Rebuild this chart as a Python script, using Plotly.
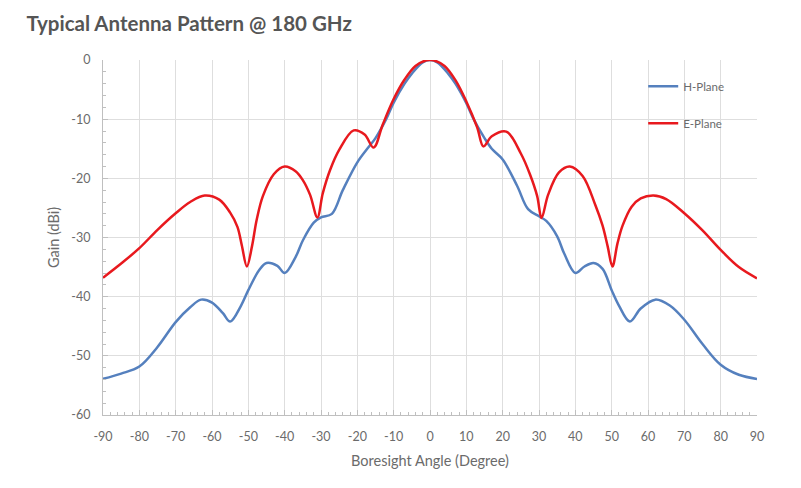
import plotly.graph_objects as go

# H-Plane data
h_angle = [-90, -85, -80, -75, -70, -66, -63, -60, -57, -55, -52, -50, -47, -45, -42, -40,
           -37, -35, -32, -30, -27, -24, -20, -17, -15, -12, -10, -7, -5, -2, 0,
           2, 5, 7, 10, 12, 15, 17, 20, 24, 27, 30, 32, 35, 37, 40, 42.5, 45, 47.5, 50,
           52, 55, 58, 62, 66, 70, 75, 80, 85, 90]
h_gain = [-53.9, -53.0, -51.8, -48.5, -44.3, -41.8, -40.5, -41.0, -42.8, -44.2, -41.5, -38.9,
          -35.5, -34.3, -34.8, -36.0, -33.3, -30.5, -27.5, -26.6, -26.0, -22.0, -17.3, -14.8,
          -13.2, -9.9, -7.2, -4.0, -2.3, -0.4, 0.0,
          -0.4, -2.3, -4.0, -7.3, -10.0, -13.2, -15.0, -16.8, -21.3, -25.2, -26.4, -27.2,
          -29.8, -32.8, -36.0, -34.9, -34.3, -35.3, -38.9, -41.5, -44.2, -42.0, -40.5,
          -41.5, -43.9, -48.0, -51.5, -53.2, -53.9]

# E-Plane data
e_angle = [-90, -85, -80, -75, -70, -66, -62, -58, -55, -53, -51.8, -50.4, -49, -47.7, -46,
           -43, -40, -37, -35, -33, -31, -29.5, -27.5, -25, -21, -18, -15.5, -13, -10, -7, -4, -1, 0,
           1, 4, 7, 10, 13, 14.7, 17, 21, 25, 27.5, 29.5, 30.7, 32.5, 35.5, 38.5, 42, 45.5,
           47.5, 48.9, 50.2, 51.6, 53, 55.5, 58, 61.5, 65, 70, 75, 80, 85, 90]
e_gain = [-36.8, -34.4, -31.8, -28.7, -25.9, -24.0, -22.9, -23.6, -25.8, -28.2, -31.3, -34.9,
          -31.5, -27.0, -23.0, -19.3, -18.0, -18.8, -20.3, -22.8, -26.6, -22.5, -18.6, -15.2,
          -11.9, -12.6, -14.8, -10.9, -6.6, -3.3, -1.0, -0.05, 0.0,
          -0.05, -1.0, -3.4, -7.0, -11.4, -14.6, -12.9, -12.1, -15.8, -19.3, -23.0, -26.7,
          -22.8, -19.0, -18.0, -19.6, -24.5, -28.0, -31.5, -34.9, -31.0, -28.0, -24.8,
          -23.4, -22.9, -23.5, -25.9, -28.8, -32.1, -35.0, -36.9]

x_ticks = list(range(-90, 91, 10))
y_ticks = list(range(-60, 1, 10))

fig = go.Figure()
fig.add_trace(go.Scatter(x=h_angle, y=h_gain, mode="lines", name="H-Plane",
                         legendgroup="h",
                         line=dict(color="#5580BE", width=2.5, shape="spline", smoothing=1.0)))
fig.add_trace(go.Scatter(x=e_angle, y=e_gain, mode="lines", name="E-Plane",
                         legendgroup="e",
                         line=dict(color="#E8191E", width=2.5, shape="spline", smoothing=1.0)))

gray = "#6b6b6b"
fig.update_layout(
    width=801, height=488,
    margin=dict(l=103, r=44, t=60, b=73),
    paper_bgcolor="white", plot_bgcolor="white",
    font=dict(family="Lato, Open Sans, sans-serif", size=12, color=gray),
    title=dict(text="<b>Typical Antenna Pattern @ 180 GHz</b>",
               x=0.033, xanchor="left", y=0.952, yanchor="middle",
               font=dict(size=20.5, color="#555555", family="Lato, Open Sans, sans-serif")),
    legend=dict(x=0.826, y=0.967, xanchor="left", yanchor="top",
                bgcolor="rgba(0,0,0,0)", font=dict(size=11.5, color=gray),
                tracegroupgap=18, traceorder="grouped", itemwidth=30),
    showlegend=True,
)
fig.update_xaxes(
    range=[-90, 90], tickvals=x_ticks, ticktext=[str(v) for v in x_ticks],
    showgrid=True, gridcolor="#dedede", gridwidth=1,
    showline=True, linecolor="#bfbfbf", linewidth=1,
    ticks="inside", ticklen=5, tickcolor="#bfbfbf",
    minor=dict(dtick=2, ticks="inside", ticklen=3, tickcolor="#bfbfbf", showgrid=False),
    zeroline=False, tickfont=dict(size=12.5, color=gray), ticklabelstandoff=10,
    title=dict(text="Boresight Angle (Degree)", font=dict(size=14.5, color=gray), standoff=12),
)
fig.update_yaxes(
    range=[-60, 0], tickvals=y_ticks, ticktext=[str(v) for v in y_ticks],
    showgrid=True, gridcolor="#dedede", gridwidth=1,
    showline=True, linecolor="#bfbfbf", linewidth=1,
    ticks="inside", ticklen=5, tickcolor="#bfbfbf",
    minor=dict(dtick=2, ticks="inside", ticklen=3, tickcolor="#bfbfbf", showgrid=False),
    zeroline=False, tickfont=dict(size=12.5, color=gray), ticklabelstandoff=9,
    title=dict(text="Gain (dBi)", font=dict(size=14.5, color=gray), standoff=8),
)

fig.write_html("out.html")
